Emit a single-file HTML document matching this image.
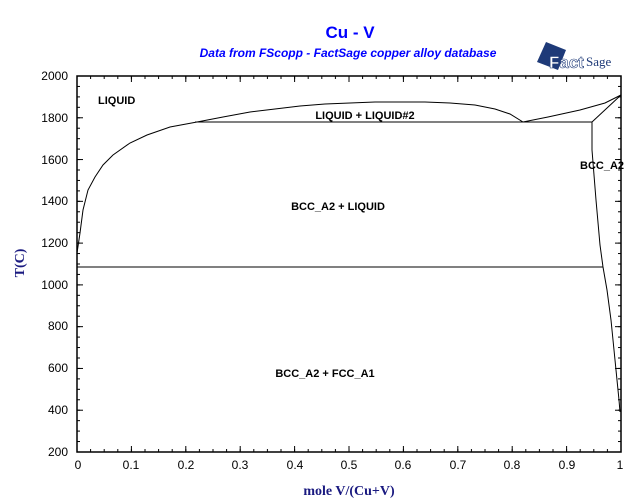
<!DOCTYPE html>
<html><head><meta charset="utf-8"><style>
html,body{margin:0;padding:0;background:#fff;}
svg{display:block;}
</style></head><body>
<svg width="640" height="504" xmlns="http://www.w3.org/2000/svg" font-family="Liberation Sans, sans-serif">
<defs>
<pattern id="xmin" patternUnits="userSpaceOnUse" x="76.5" y="0" width="13.6" height="504"><rect x="0" y="0" width="1" height="504" fill="#000"/></pattern>
<pattern id="xmaj" patternUnits="userSpaceOnUse" x="76.5" y="0" width="54.4" height="504"><rect x="0" y="0" width="1" height="504" fill="#000"/></pattern>
<pattern id="ymin" patternUnits="userSpaceOnUse" x="0" y="75.5" width="640" height="10.444"><rect x="0" y="0" width="640" height="1" fill="#000"/></pattern>
<pattern id="ymaj" patternUnits="userSpaceOnUse" x="0" y="75.5" width="640" height="41.778"><rect x="0" y="0" width="640" height="1" fill="#000"/></pattern>
</defs>
<rect width="640" height="504" fill="#fff"/>
<text x="350" y="38" text-anchor="middle" font-size="17" font-weight="bold" fill="#0000ff">Cu - V</text>
<text x="348" y="57" text-anchor="middle" font-size="12" font-weight="bold" font-style="italic" fill="#0000ff">Data from FScopp - FactSage copper alloy database</text>
<polygon points="546,42 566,50 558,70 537,62" fill="#1e3a78"/>
<text x="549" y="68" font-size="17" font-weight="bold" fill="#fff" stroke="#1e3a78" stroke-width="0.6">Fact</text>
<text x="586" y="66" font-size="13" fill="#1e3a78" font-family="Liberation Serif, serif">Sage</text>
<rect x="76" y="449" width="546" height="3" fill="url(#xmin)"/>
<rect x="76" y="446" width="546" height="6" fill="url(#xmaj)"/>
<rect x="76" y="76" width="546" height="3" fill="url(#xmin)"/>
<rect x="76" y="76" width="546" height="6" fill="url(#xmaj)"/>
<rect x="77" y="75" width="3" height="378" fill="url(#ymin)"/>
<rect x="77" y="75" width="6" height="378" fill="url(#ymaj)"/>
<rect x="618" y="75" width="3" height="378" fill="url(#ymin)"/>
<rect x="615" y="75" width="6" height="378" fill="url(#ymaj)"/>
<rect x="77" y="76" width="544" height="376" fill="none" stroke="#000" stroke-width="1.5"/>
<g font-size="12" fill="#000" text-anchor="end">
<text x="68" y="80">2000</text><text x="68" y="122">1800</text><text x="68" y="164">1600</text><text x="68" y="205">1400</text><text x="68" y="247">1200</text><text x="68" y="289">1000</text><text x="68" y="330">800</text><text x="68" y="372">600</text><text x="68" y="414">400</text><text x="68" y="456">200</text>
</g>
<g font-size="12" fill="#000" text-anchor="middle">
<text x="78" y="469">0</text><text x="131" y="469">0.1</text><text x="186" y="469">0.2</text><text x="240" y="469">0.3</text><text x="295" y="469">0.4</text><text x="349" y="469">0.5</text><text x="403" y="469">0.6</text><text x="458" y="469">0.7</text><text x="512" y="469">0.8</text><text x="567" y="469">0.9</text><text x="620" y="469">1</text>
</g>
<text x="349" y="495" text-anchor="middle" font-family="Liberation Serif, serif" font-weight="bold" font-size="14" fill="#1a1a80">mole V/(Cu+V)</text>
<text transform="translate(24,263) rotate(-90)" text-anchor="middle" font-family="Liberation Serif, serif" font-weight="bold" font-size="14" fill="#1a1a80">T(C)</text>
<g fill="none" stroke="#000" stroke-width="1">
<polyline points="77,300 77,253 80,233 83,210 88,190 95,177 103,165 113,155 130,143 147,135 170,127 197,122 223,117 250,112 275,109 300,106 325,104 350,103 375,102 400,102 425,102 450,103 475,105 495,109 510,114 523,122 548,117 580,110 605,103 621,95"/>
<line x1="195" y1="122" x2="592" y2="122"/>
<line x1="621" y1="95" x2="592" y2="122"/>
<polyline points="592,122 592,150 596,200 600,245 603,267 607,290 611,320 614,350 617,380 619,400 620,412"/>
<line x1="77" y1="267" x2="603" y2="267"/>
</g>
<g font-size="11" font-weight="bold" fill="#000">
<text x="98" y="104">LIQUID</text>
<text x="365" y="119" text-anchor="middle">LIQUID + LIQUID#2</text>
<text x="338" y="210" text-anchor="middle">BCC_A2 + LIQUID</text>
<text x="325" y="377" text-anchor="middle">BCC_A2 + FCC_A1</text>
<text x="580" y="169">BCC_A2</text>
</g>
</svg>
</body></html>
